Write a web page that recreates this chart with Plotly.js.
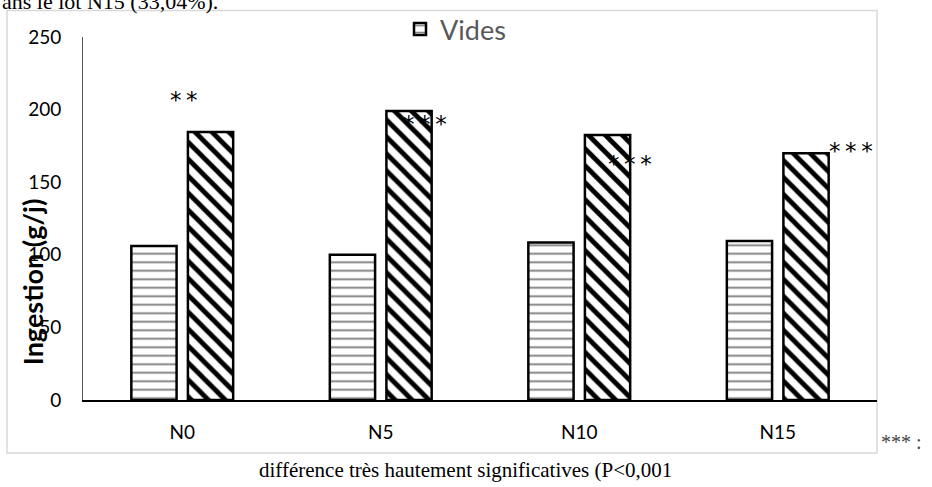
<!DOCTYPE html>
<html>
<head>
<meta charset="utf-8">
<script src="https://cdn.plot.ly/plotly-3.0.1.min.js"></script>
<style>html,body{margin:0;padding:0;background:#fff;}#chart{width:932px;height:487px;}</style>
</head>
<body>
<div id="chart"></div>
<script>
// ---- data ----
const categories = ["N0", "N5", "N10", "N15"];
const videsValues = [106, 100, 108.5, 109.5];
const pleinsValues = [184.5, 199, 182.5, 170];
const seriesNames = ["Vides", "Pleins"];
const yTickValues = [0, 50, 100, 150, 200, 250];
const signifLabels = ["**", "***", "***", "***"];

const sansFont = "Lato, 'Open Sans', sans-serif";
const starFont = "'DejaVu Sans', sans-serif";
const serifFont = "'Liberation Serif', 'DejaVu Serif', serif";

const traces = [
  {
    type: "bar", name: seriesNames[0], x: categories, y: videsValues,
    marker: {color: "#ffffff", line: {color: "#000000", width: 2.5},
      pattern: {shape: "-", fgcolor: "#000000", bgcolor: "#ffffff", fgopacity: 0.5, size: 8.5, solidity: 0.22}},
    showlegend: true, hoverinfo: "skip"
  },
  {
    type: "bar", name: seriesNames[1], x: categories, y: pleinsValues,
    marker: {color: "#ffffff", line: {color: "#000000", width: 2.5},
      pattern: {shape: "\\", fgcolor: "#000000", bgcolor: "#ffffff", size: 12, solidity: 0.4}},
    showlegend: false, hoverinfo: "skip"
  }
];

// annotation placement (pixel offsets relative to category centres)
const sigX = [2, 44, 51, 73];
const sigY = [209.8, 193.3, 165.7, 174.7];

const annotations = signifLabels.map((t, i) => ({
  text: t.split("").join("\u2009"), x: categories[i], y: sigY[i], xref: "x", yref: "y",
  xshift: sigX[i], yshift: -5, showarrow: false, xanchor: "center", yanchor: "middle",
  font: {family: starFont, size: 23, color: "#000000"}
}));

annotations.push(
  {text: "<b>Ingestion (g/j)</b>", xref: "paper", yref: "paper",
   x: (32 - 83) / 794, y: (400 - 282) / 363.5, textangle: -90, showarrow: false,
   xanchor: "center", yanchor: "middle",
   font: {family: sansFont, size: 27, color: "#000000"}},
  {text: "différence très hautement significatives (P<0,001", xref: "paper", yref: "paper",
   x: (465 - 83) / 794, y: (400 - 470) / 363.5, showarrow: false,
   xanchor: "center", yanchor: "middle",
   font: {family: serifFont, size: 21, color: "#000000"}},
  {text: "*** :", xref: "paper", yref: "paper",
   x: (879 - 83) / 794, y: (400 - 442) / 363.5, showarrow: false,
   xanchor: "left", yanchor: "middle",
   font: {family: serifFont, size: 20, color: "#444444"}},
  {text: "ans le lot N15 (33,04%).", xref: "paper", yref: "paper",
   x: (0 - 83) / 794, y: (400 - 1) / 363.5, showarrow: false,
   xanchor: "left", yanchor: "middle",
   font: {family: serifFont, size: 22, color: "#000000"}}
);

const layout = {
  width: 932, height: 487,
  margin: {l: 83, r: 55, t: 36.5, b: 87, pad: 0, autoexpand: false},
  paper_bgcolor: "#ffffff", plot_bgcolor: "#ffffff",
  barmode: "group", bargap: 0.43, bargroupgap: 0.2,
  showlegend: true,
  legend: {orientation: "h", x: (400 - 83) / 794, y: (400 - 29) / 363.5, xanchor: "left", yanchor: "middle",
    font: {family: sansFont, size: 27, color: "#595959"}, bgcolor: "rgba(0,0,0,0)"},
  xaxis: {
    type: "category", showline: true, linecolor: "#000000", linewidth: 2,
    showgrid: false, zeroline: false, ticks: "", ticklabelstandoff: 14,
    tickfont: {family: sansFont, size: 19, color: "#000000"}, fixedrange: true, automargin: false
  },
  yaxis: {
    range: [0, 250], tickvals: yTickValues, showline: true, linecolor: "#595959", linewidth: 1,
    showgrid: false, zeroline: false, ticks: "", ticklabelstandoff: 17,
    tickfont: {family: sansFont, size: 19, color: "#000000"}, fixedrange: true, automargin: false
  },
  shapes: [{
    type: "rect", xref: "paper", yref: "paper",
    x0: (7 - 83) / 794, x1: (877 - 83) / 794,
    y0: (400 - 453) / 363.5, y1: (400 - 10) / 363.5,
    line: {color: "#d9d9d9", width: 1.5}, fillcolor: "rgba(0,0,0,0)", layer: "below"
  }],
  annotations: annotations
};

Plotly.newPlot("chart", traces, layout, {displayModeBar: false, staticPlot: true});
</script>
</body>
</html>
